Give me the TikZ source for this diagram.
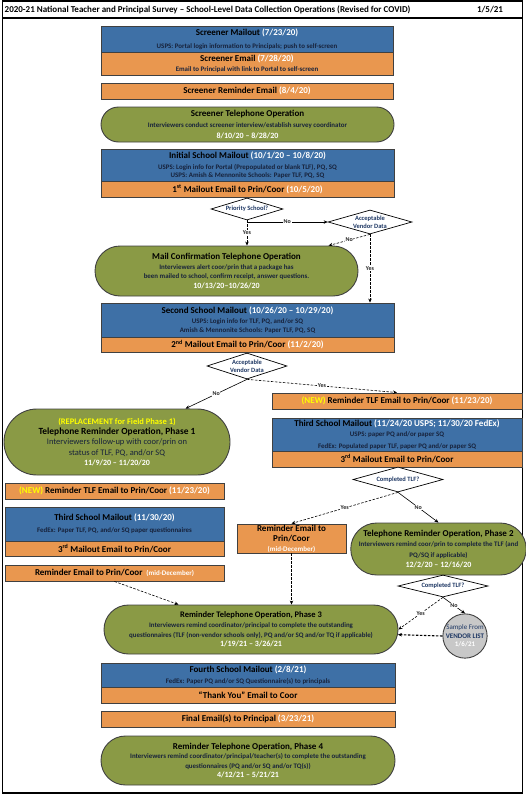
\documentclass[tikz,border=0pt]{standalone}
\usepackage{fontspec}
\setmainfont{Carlito}
\usetikzlibrary{shapes.geometric,shapes.misc,arrows.meta}
\definecolor{bx}{HTML}{3E70A6}
\definecolor{og}{HTML}{E9974F}
\definecolor{gr}{HTML}{8A9A45}
\definecolor{nv}{HTML}{1F3864}
\definecolor{dk}{HTML}{17223B}
\definecolor{gy}{HTML}{C8C8C8}
\definecolor{yl}{HTML}{FFFF00}
\newcommand\ttl[1]{{\fontsize{9}{10}\selectfont\bfseries #1}}
\newcommand\wht[1]{\textcolor{white}{#1}}
\newcommand\subt[1]{{\fontsize{6.9}{7.5}\selectfont\bfseries\color{dk}#1}}
\newcommand\subr[1]{{\fontsize{8.5}{9}\selectfont\color{dk}#1}}
\newcommand\dte[1]{{\fontsize{8}{9}\selectfont\bfseries\color{white}#1}}
\tikzset{
  box/.style={draw=black!75, line width=0.9pt, inner sep=0pt, align=center, text=black},
  bluebox/.style={box, fill=bx},
  orgbox/.style={box, fill=og},
  grnbox/.style={box, fill=gr, rounded rectangle},
  dia/.style={diamond, draw=black, line width=0.7pt, fill=white, inner sep=0pt},
  dtxt/.style={font=\fontsize{6.5}{7.5}\selectfont\bfseries, text=nv, align=center},
  arr/.style={-{Stealth[length=4pt,width=3.5pt]}, line width=0.6pt},
  dsh/.style={arr, dash pattern=on 2.5pt off 1.5pt},
  lbl/.style={font=\fontsize{6}{7}\selectfont\bfseries, fill=white, inner sep=0.6pt, text=black!85}
}
\begin{document}
\begin{tikzpicture}[x=1pt,y=-1pt]
\useasboundingbox (0,0) rectangle (526,795);
% frame
\draw[line width=1.2pt] (2.5,1) rectangle (522.5,793);
\draw[line width=1.2pt] (2.5,18) -- (522.5,18);
\node[anchor=west, inner sep=0pt, font=\fontsize{9}{10}\selectfont\bfseries] (title) at (4.5,9.5)
  {2020-21 National Teacher and Principal Survey – School-Level Data Collection Operations (Revised for COVID)};
\node[inner sep=0pt, font=\fontsize{9}{10}\selectfont\bfseries] (date) at (490,9.5) {1/5/21};

% screener
\node[bluebox, minimum width=292pt, minimum height=26pt, font=\fontsize{6}{13}\selectfont] (sm) at (247,39)
  {\ttl{Screener Mailout \wht{(7/23/20)}}\\\subt{USPS: Portal login information to Principals; push to self-screen}};
\node[orgbox, minimum width=292pt, minimum height=23pt, font=\fontsize{6}{10}\selectfont] (se) at (247,63.5)
  {\ttl{Screener Email \wht{(7/28/20)}}\\\subt{Email to Principal with link to Portal to self-screen}};
\node[orgbox, minimum width=292pt, minimum height=16pt] (sre) at (247,91)
  {\ttl{Screener Reminder Email \wht{(8/4/20)}}};
\node[grnbox, minimum width=293pt, minimum height=35pt, font=\fontsize{6}{11}\selectfont] (sto) at (247.5,124.5)
  {\ttl{Screener Telephone Operation}\\\subt{Interviewers conduct screener interview/establish survey coordinator}\\\dte{8/10/20 -- 8/28/20}};

% initial mailout
\node[bluebox, minimum width=293pt, minimum height=32pt, font=\fontsize{6}{8.3}\selectfont] (ism) at (247.5,165)
  {\ttl{Initial School Mailout \wht{(10/1/20 -- 10/8/20)}}\\[2.5pt]\subt{USPS: Login info for Portal (Prepopulated or blank TLF), PQ, SQ}\\\subt{USPS: Amish \& Mennonite Schools: Paper TLF, PQ, SQ}};
\node[orgbox, minimum width=293pt, minimum height=16pt] (ise) at (247.5,189)
  {\ttl{1\textsuperscript{st} Mailout Email to Prin/Coor \wht{(10/5/20)}}};

\node[dia, minimum width=72pt, minimum height=22pt, label={[dtxt]center:Priority School?}] (ps) at (247,209) {};
\node[dia, minimum width=84pt, minimum height=24pt, label={[dtxt, font=\fontsize{6.5}{8.5}\selectfont\bfseries]center:Acceptable\\Vendor Data}] (avd1) at (370,222) {};

\node[grnbox, minimum width=263pt, minimum height=50pt, font=\fontsize{6.3}{9.5}\selectfont] (mct) at (226.5,271)
  {\ttl{Mail Confirmation Telephone Operation}\\\subt{Interviewers alert coor/prin that a package has}\\\subt{been mailed to school, confirm receipt, answer questions.}\\\dte{10/13/20--10/26/20}};

% second mailout
\node[bluebox, minimum width=293pt, minimum height=34pt, font=\fontsize{6}{8.5}\selectfont] (ssm) at (247.5,320)
  {\ttl{Second School Mailout \wht{(10/26/20 -- 10/29/20)}}\\[2pt]\subt{USPS: Login info for TLF, PQ, and/or SQ}\\\subt{Amish \& Mennonite Schools: Paper TLF, PQ, SQ}};
\node[orgbox, minimum width=293pt, minimum height=15pt] (sse) at (247.5,344.5)
  {\ttl{2\textsuperscript{nd} Mailout Email to Prin/Coor \wht{(11/2/20)}}};

\node[dia, minimum width=80pt, minimum height=26pt, label={[dtxt, font=\fontsize{6.5}{8.5}\selectfont\bfseries]center:Acceptable\\Vendor Data}] (avd2) at (247,366) {};

% left branch
\node[grnbox, minimum width=226pt, minimum height=66pt, font=\fontsize{7.5}{10.3}\selectfont] (tr1) at (117,442)
  {{\fontsize{8.5}{9}\selectfont\bfseries\color{yl}(REPLACEMENT for Field Phase 1)}\\{\fontsize{9.4}{10}\selectfont\bfseries Telephone Reminder Operation, Phase 1}\\\subr{Interviewers follow-up with coor/prin on}\\\subr{status of TLF, PQ, and/or SQ}\\\dte{11/9/20 -- 11/20/20}};
\node[orgbox, minimum width=219pt, minimum height=16pt] (nrl) at (114.5,491)
  {\ttl{\textcolor{yl}{(NEW)} Reminder TLF Email to Prin/Coor \wht{(11/23/20)}}};
\node[bluebox, minimum width=219pt, minimum height=34pt, font=\fontsize{6}{12}\selectfont] (tsl) at (114.5,524)
  {\ttl{Third School Mailout \wht{(11/30/20)}}\\\subt{FedEx: Paper TLF, PQ, and/or SQ paper questionnaires}};
\node[orgbox, minimum width=219pt, minimum height=15pt] (tsle) at (114.5,548.5)
  {\ttl{3\textsuperscript{rd} Mailout Email to Prin/Coor}};
\node[orgbox, minimum width=219pt, minimum height=16pt] (reml) at (114.5,573)
  {\ttl{Reminder Email to Prin/Coor\hspace{4pt}{\fontsize{7}{8}\selectfont\wht{(mid-December)}}}};

% right branch
\node[orgbox, minimum width=250pt, minimum height=16pt] (nrr) at (397,401)
  {\ttl{\textcolor{yl}{(NEW)} Reminder TLF Email to Prin/Coor \wht{(11/23/20)}}};
\node[bluebox, minimum width=250pt, minimum height=33pt, font=\fontsize{6}{10}\selectfont] (tsr) at (397,434.5)
  {\ttl{Third School Mailout \wht{(11/24/20 USPS; 11/30/20 FedEx)}}\\\subt{USPS: paper PQ and/or paper SQ}\\[1.5pt]\subt{FedEx: Populated paper TLF, paper PQ and/or paper SQ}};
\node[orgbox, minimum width=250pt, minimum height=16pt] (tsre) at (397,459)
  {\ttl{3\textsuperscript{rd} Mailout Email to Prin/Coor}};

\node[dia, minimum width=90pt, minimum height=25pt, label={[dtxt]center:Completed TLF?}] (ct1) at (398,479.5) {};

\node[orgbox, minimum width=109pt, minimum height=29pt, font=\fontsize{7}{10}\selectfont] (rem) at (291.5,538.5)
  {\ttl{Reminder Email to}\\\ttl{Prin/Coor}\\{\bfseries\wht{(mid-December)}}};
\node[grnbox, minimum width=165pt, minimum height=52pt, font=\fontsize{6.4}{10.3}\selectfont] (tr2) at (438.5,549)
  {\ttl{Telephone Reminder Operation, Phase 2}\\\subt{Interviewers remind coor/prin to complete the TLF (and}\\\subt{PQ/SQ if applicable)}\\\dte{12/2/20 -- 12/16/20}};

\node[dia, minimum width=90pt, minimum height=22pt, label={[dtxt]center:Completed TLF?}] (ct2) at (443,586) {};

\node[circle, draw=black!75, line width=0.9pt, fill=gy, minimum size=44pt, inner sep=0pt, align=center,
      font=\fontsize{7}{8.5}\selectfont, text=nv] (samp) at (465,636)
  {Sample From\\{\bfseries VENDOR LIST}\\{\bfseries\color{white}1/6/21}};

\node[grnbox, minimum width=294pt, minimum height=49pt, font=\fontsize{6.3}{9.6}\selectfont] (tr3) at (251,629.5)
  {{\fontsize{8.5}{9}\selectfont\bfseries Reminder Telephone Operation, Phase 3}\\\subt{Interviewers remind coordinator/principal to complete the outstanding}\\\subt{questionnaires (TLF (non-vendor schools only), PQ and/or SQ and/or TQ if applicable)}\\\dte{1/19/21 -- 3/26/21}};

% final
\node[bluebox, minimum width=294pt, minimum height=24pt, font=\fontsize{6}{11}\selectfont] (fsm) at (248,675)
  {\ttl{Fourth School Mailout \wht{(2/8/21)}}\\\subt{FedEx: Paper PQ and/or SQ Questionnaire(s) to principals}};
\node[orgbox, minimum width=294pt, minimum height=16pt] (fse) at (248,695)
  {\ttl{“Thank You” Email to Coor}};
\node[orgbox, minimum width=294pt, minimum height=16pt] (fe) at (248,719)
  {\ttl{Final Email(s) to Principal \wht{(3/23/21)}}};
\node[grnbox, minimum width=294pt, minimum height=49pt, font=\fontsize{6.3}{9.6}\selectfont] (tr4) at (248,760.5)
  {\ttl{Reminder Telephone Operation, Phase 4}\\\subt{Interviewers remind coordinator/principal/teacher(s) to complete the outstanding}\\\subt{questionnaires (PQ and/or SQ and/or TQ(s))}\\\dte{4/12/21 -- 5/21/21}};

% connectors
\draw[dsh] (ps.south) -- node[lbl]{Yes} (ps.south |- mct.north);
\draw[arr] (ps.south) |- node[lbl, pos=0.75]{No} (avd1.west);
\draw[dsh] (avd1.south) -- node[lbl]{No} (mct.14.5);
\draw[dsh] (avd1.south) -- node[lbl]{Yes} (avd1.south |- ssm.north);
\draw[arr] (avd2.south) -- node[lbl]{No} (tr1.26.6);
\draw[dsh] (avd2.south) -- node[lbl]{Yes} (nrr.north);
\draw[dsh] (ct1.south) -- node[lbl]{Yes} (rem.north);
\draw[arr] (ct1.south) -- node[lbl]{No} (tr2.north);
\draw[dsh] (rem.south) -- (rem.south |- tr3.north);
\draw[dsh] (reml.south) -- (tr3.161);
\draw[dsh] (ct2.south) -- node[lbl]{Yes} (tr3.east);
\draw[arr] (ct2.south) -- node[lbl]{No} (samp.north);
\draw[dsh, line width=1.1pt] (samp.west) -- (tr3.-2.55);
\end{tikzpicture}
\end{document}
